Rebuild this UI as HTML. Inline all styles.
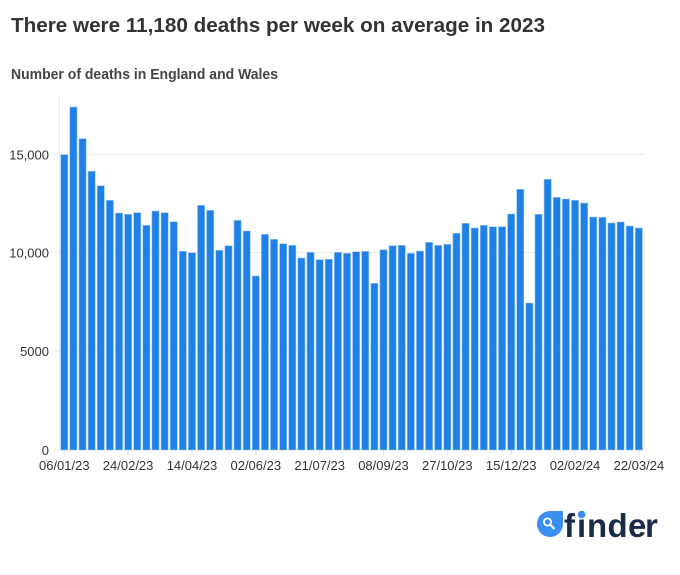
<!DOCTYPE html>
<html><head><meta charset="utf-8"><style>
html,body{margin:0;padding:0;background:#fff;}
svg{display:block;}
</style></head><body>
<svg width="680" height="575" viewBox="0 0 680 575" xmlns="http://www.w3.org/2000/svg" font-family="'Liberation Sans', sans-serif">
<rect width="680" height="575" fill="#fff"/>
<text x="11" y="32" font-size="20" font-weight="bold" fill="#333" textLength="534" lengthAdjust="spacingAndGlyphs">There were 11,180 deaths per week on average in 2023</text>
<text x="11" y="79" font-size="14.5" font-weight="bold" fill="#444" textLength="267" lengthAdjust="spacingAndGlyphs">Number of deaths in England and Wales</text>
<g stroke="#ebebeb" stroke-width="1">
<line x1="52" y1="154.5" x2="644" y2="154.5"/>
<line x1="52" y1="252.5" x2="644" y2="252.5"/>
<line x1="52" y1="351" x2="644" y2="351"/>
<line x1="52" y1="450" x2="644" y2="450"/>
<line x1="59.5" y1="95" x2="59.5" y2="450"/>
</g>
<g font-size="13" fill="#333" text-anchor="end">
<text x="49" y="159.3">15,000</text>
<text x="49" y="257.5">10,000</text>
<text x="49" y="355.8">5000</text>
<text x="49" y="454.8">0</text>
</g>
<g fill="#1f80e5" stroke="#9cc6f3" stroke-width="0.6">
<rect x="60.7" y="154.7" width="7.2" height="295.3"/>
<rect x="69.82" y="107" width="7.2" height="343"/>
<rect x="78.94" y="138.7" width="7.2" height="311.3"/>
<rect x="88.06" y="171.3" width="7.2" height="278.7"/>
<rect x="97.18" y="185.7" width="7.2" height="264.3"/>
<rect x="106.3" y="200.3" width="7.2" height="249.7"/>
<rect x="115.42" y="213" width="7.2" height="237"/>
<rect x="124.54" y="214.3" width="7.2" height="235.7"/>
<rect x="133.66" y="212.7" width="7.2" height="237.3"/>
<rect x="142.78" y="225.3" width="7.2" height="224.7"/>
<rect x="151.9" y="211" width="7.2" height="239"/>
<rect x="161.02" y="212.7" width="7.2" height="237.3"/>
<rect x="170.14" y="221.7" width="7.2" height="228.3"/>
<rect x="179.26" y="251.3" width="7.2" height="198.7"/>
<rect x="188.38" y="252.7" width="7.2" height="197.3"/>
<rect x="197.5" y="205.3" width="7.2" height="244.7"/>
<rect x="206.62" y="210.3" width="7.2" height="239.7"/>
<rect x="215.74" y="250.3" width="7.2" height="199.7"/>
<rect x="224.86" y="245.7" width="7.2" height="204.3"/>
<rect x="233.98" y="220.3" width="7.2" height="229.7"/>
<rect x="243.1" y="231" width="7.2" height="219"/>
<rect x="252.22" y="276" width="7.2" height="174"/>
<rect x="261.34" y="234.3" width="7.2" height="215.7"/>
<rect x="270.46" y="239.3" width="7.2" height="210.7"/>
<rect x="279.58" y="243.7" width="7.2" height="206.3"/>
<rect x="288.7" y="245.3" width="7.2" height="204.7"/>
<rect x="297.82" y="258" width="7.2" height="192"/>
<rect x="306.94" y="252.3" width="7.2" height="197.7"/>
<rect x="316.06" y="259.7" width="7.2" height="190.3"/>
<rect x="325.18" y="259.3" width="7.2" height="190.7"/>
<rect x="334.3" y="252.3" width="7.2" height="197.7"/>
<rect x="343.42" y="253.3" width="7.2" height="196.7"/>
<rect x="352.54" y="251.7" width="7.2" height="198.3"/>
<rect x="361.66" y="251.3" width="7.2" height="198.7"/>
<rect x="370.78" y="283.3" width="7.2" height="166.7"/>
<rect x="379.9" y="249.7" width="7.2" height="200.3"/>
<rect x="389.02" y="245.7" width="7.2" height="204.3"/>
<rect x="398.14" y="245.3" width="7.2" height="204.7"/>
<rect x="407.26" y="253.3" width="7.2" height="196.7"/>
<rect x="416.38" y="251" width="7.2" height="199"/>
<rect x="425.5" y="242.3" width="7.2" height="207.7"/>
<rect x="434.62" y="245.3" width="7.2" height="204.7"/>
<rect x="443.74" y="244.3" width="7.2" height="205.7"/>
<rect x="452.86" y="233.3" width="7.2" height="216.7"/>
<rect x="461.98" y="223.3" width="7.2" height="226.7"/>
<rect x="471.1" y="228" width="7.2" height="222"/>
<rect x="480.22" y="225.3" width="7.2" height="224.7"/>
<rect x="489.34" y="226.7" width="7.2" height="223.3"/>
<rect x="498.46" y="226.7" width="7.2" height="223.3"/>
<rect x="507.58" y="214" width="7.2" height="236"/>
<rect x="516.7" y="189.3" width="7.2" height="260.7"/>
<rect x="525.82" y="303" width="7.2" height="147"/>
<rect x="534.94" y="214.3" width="7.2" height="235.7"/>
<rect x="544.06" y="179.3" width="7.2" height="270.7"/>
<rect x="553.18" y="197.3" width="7.2" height="252.7"/>
<rect x="562.3" y="199" width="7.2" height="251"/>
<rect x="571.42" y="200.3" width="7.2" height="249.7"/>
<rect x="580.54" y="203" width="7.2" height="247"/>
<rect x="589.66" y="217" width="7.2" height="233"/>
<rect x="598.78" y="217.3" width="7.2" height="232.7"/>
<rect x="607.9" y="223" width="7.2" height="227"/>
<rect x="617.02" y="222" width="7.2" height="228"/>
<rect x="626.14" y="226" width="7.2" height="224"/>
<rect x="635.26" y="228" width="7.2" height="222"/>
</g>
<g stroke="#e0e0e0" stroke-width="1">
<line x1="64.3" y1="450" x2="64.3" y2="455"/>
<line x1="128.1" y1="450" x2="128.1" y2="455"/>
<line x1="192" y1="450" x2="192" y2="455"/>
<line x1="255.8" y1="450" x2="255.8" y2="455"/>
<line x1="319.7" y1="450" x2="319.7" y2="455"/>
<line x1="383.5" y1="450" x2="383.5" y2="455"/>
<line x1="447.3" y1="450" x2="447.3" y2="455"/>
<line x1="511.2" y1="450" x2="511.2" y2="455"/>
<line x1="575" y1="450" x2="575" y2="455"/>
<line x1="638.9" y1="450" x2="638.9" y2="455"/>
</g>
<g font-size="13" fill="#333" text-anchor="middle">
<text x="64.3" y="470">06/01/23</text>
<text x="128.1" y="470">24/02/23</text>
<text x="192" y="470">14/04/23</text>
<text x="255.8" y="470">02/06/23</text>
<text x="319.7" y="470">21/07/23</text>
<text x="383.5" y="470">08/09/23</text>
<text x="447.3" y="470">27/10/23</text>
<text x="511.2" y="470">15/12/23</text>
<text x="575" y="470">02/02/24</text>
<text x="638.9" y="470">22/03/24</text>
</g>
<path d="M550,511 L563,511 L563,524 A13,13 0 1,1 550,511 Z" fill="#3a8ff0"/>
<circle cx="547.5" cy="522" r="3.6" fill="none" stroke="#fff" stroke-width="1.8"/>
<line x1="550.2" y1="524.7" x2="554" y2="528.5" stroke="#fff" stroke-width="2" stroke-linecap="round"/>
<text y="537" font-size="33" font-weight="bold" fill="#1a2b48"><tspan x="564">f</tspan><tspan x="577">i</tspan><tspan x="587">n</tspan><tspan x="607.5">d</tspan><tspan x="628">e</tspan><tspan x="645">r</tspan></text>
<circle cx="581.6" cy="514.5" r="3.8" fill="#3a8ff0"/>
</svg>
</body></html>
